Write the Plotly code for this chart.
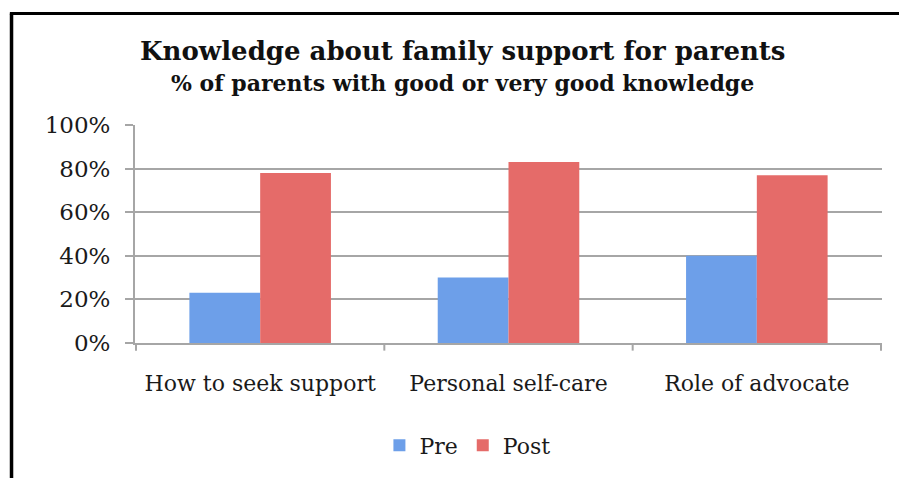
import plotly.graph_objects as go

categories = ["How to seek support", "Personal self-care", "Role of advocate"]
pre_values = [23, 30, 40]
post_values = [78, 83, 77]
series_names = ["Pre", "Post"]
tick_values = [0, 20, 40, 60, 80, 100]
tick_labels = ["0%", "20%", "40%", "60%", "80%", "100%"]
title_line1 = "Knowledge about family support for parents"
title_line2 = "% of parents with good or very good knowledge"

FONT = "DejaVu Serif"
GRID = "#a6a6a6"

fig = go.Figure()
fig.add_trace(go.Bar(x=categories, y=pre_values, name=series_names[0],
                     marker=dict(color="#6d9fe9", line=dict(width=0))))
fig.add_trace(go.Bar(x=categories, y=post_values, name=series_names[1],
                     marker=dict(color="#e56b69", line=dict(width=0))))

fig.update_layout(
    width=899, height=478,
    margin=dict(l=135, r=17, t=125, b=131),
    paper_bgcolor="white", plot_bgcolor="white",
    font=dict(family=FONT, color="#1a1a1a", size=22),
    barmode="group", bargap=0.43, bargroupgap=0,
    showlegend=True,
    legend=dict(orientation="h", x=0.445, xanchor="center", y=-0.47, yanchor="middle",
                font=dict(size=22), traceorder="normal", itemwidth=30),
    xaxis=dict(showgrid=False, showline=True, linecolor=GRID, linewidth=2,
               ticks="", tickfont=dict(size=22), ticklabelstandoff=20),
    yaxis=dict(range=[0, 100], tickvals=tick_values, ticktext=tick_labels,
               showgrid=True, gridcolor=GRID, gridwidth=2,
               showline=True, linecolor=GRID, linewidth=2,
               ticks="outside", ticklen=8, tickcolor=GRID, tickwidth=2,
               tickfont=dict(size=23), ticklabelstandoff=10, zeroline=False),
)

fig.add_annotation(text="<b>" + title_line1 + "</b>", xref="paper", yref="paper",
                   x=0.439, y=1.338, xanchor="center", yanchor="middle", showarrow=False,
                   font=dict(family=FONT, size=26, color="#111111"))
fig.add_annotation(text="<b>" + title_line2 + "</b>", xref="paper", yref="paper",
                   x=0.439, y=1.194, xanchor="center", yanchor="middle", showarrow=False,
                   font=dict(family=FONT, size=22, color="#111111"))

# category boundary ticks on x axis
for i in range(len(categories) + 1):
    fig.add_shape(type="line", xref="x", yref="paper",
                  x0=i - 0.5, x1=i - 0.5, y0=0, y1=-0.035,
                  line=dict(color=GRID, width=2))

# outer frame (left and top edges)
fig.add_shape(type="line", xref="paper", yref="paper",
              x0=-0.1653, x1=-0.1653, y0=1.511, y1=-0.62,
              line=dict(color="black", width=3.5))
fig.add_shape(type="line", xref="paper", yref="paper",
              x0=-0.1675, x1=1.05, y0=1.511, y1=1.511,
              line=dict(color="black", width=3))

fig.write_html("out.html", config={"displayModeBar": False},
               post_script="document.body.style.margin='0';")
